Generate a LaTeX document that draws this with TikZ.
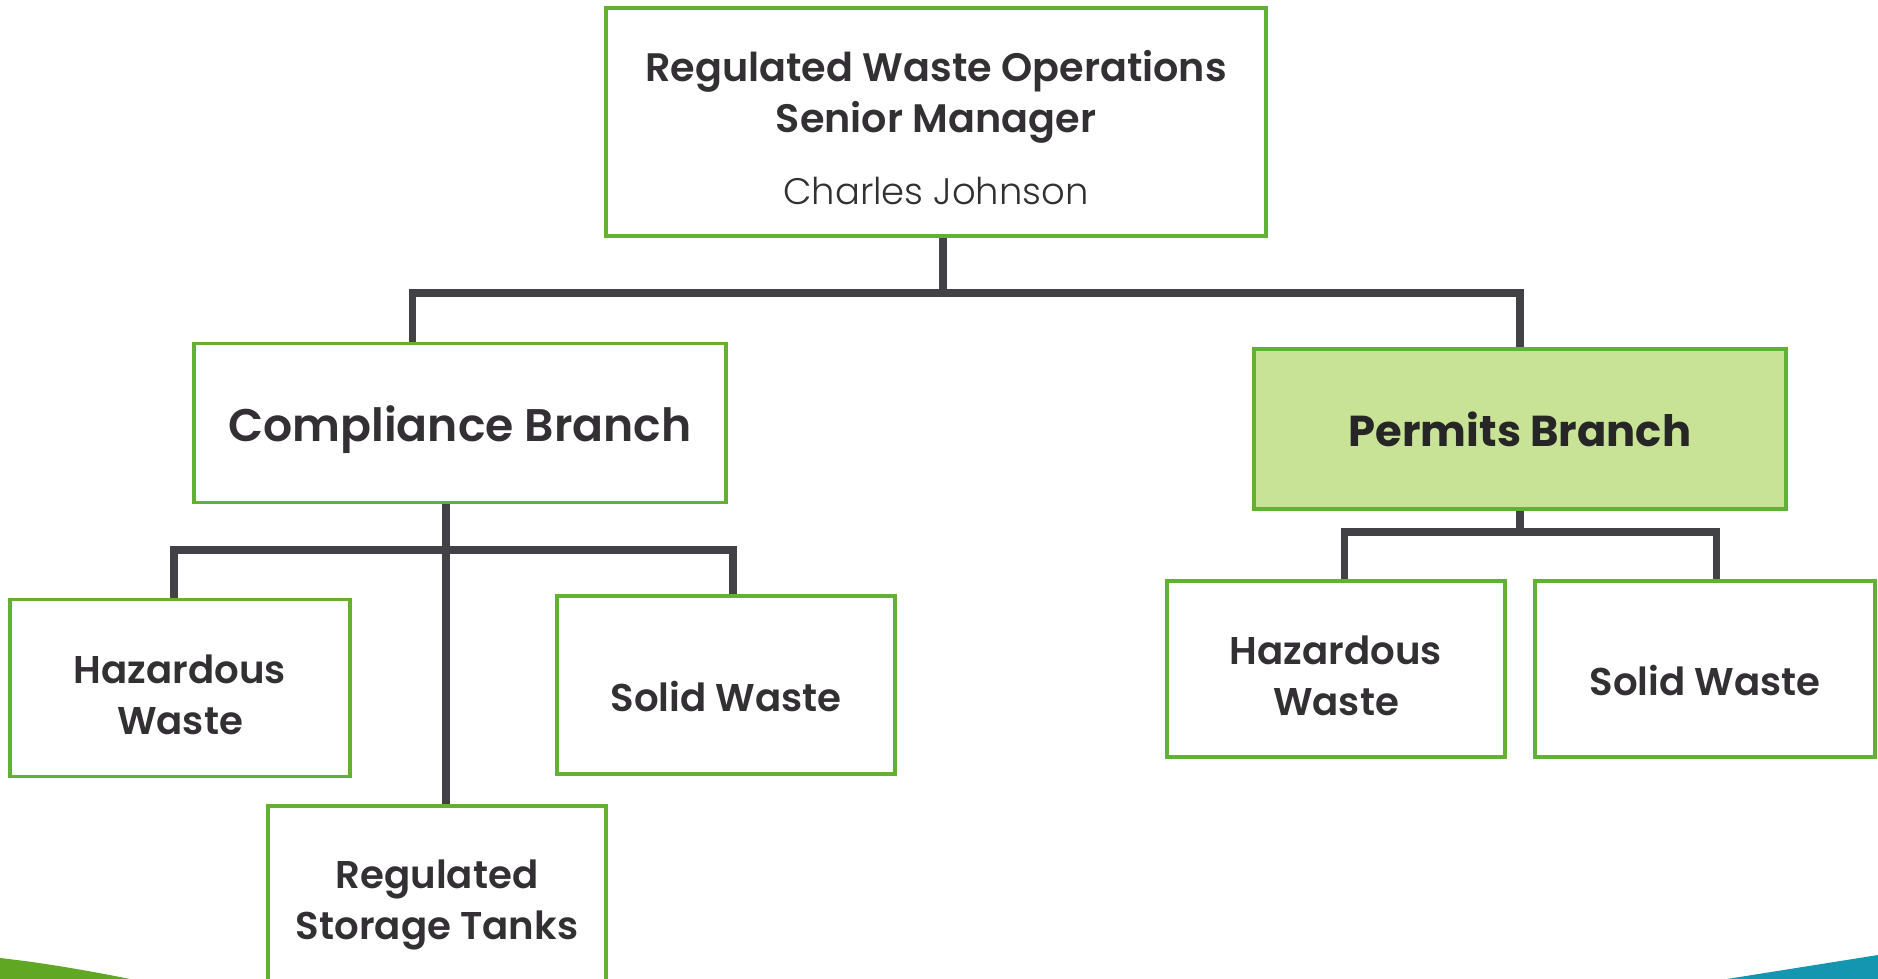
\documentclass[tikz,border=0pt]{standalone}
\usepackage{fontspec}
\setmainfont{Poppins}[BoldFont={Poppins SemiBold}]
\newfontfamily\lightfont{Poppins Light}
\newfontfamily\heavyfont{Poppins Bold}
\usepackage{xcolor}
\usetikzlibrary{calc}
\definecolor{boxgreen}{RGB}{98,176,52}
\definecolor{swooshgreen}{RGB}{96,168,36}
\definecolor{lightgreen}{RGB}{200,226,150}
\definecolor{linegray}{RGB}{66,66,70}
\definecolor{textgray}{RGB}{50,48,50}
\definecolor{swooshblue}{RGB}{20,150,176}
\newcommand{\textlift}[1]{\rule{0pt}{#1}}

\begin{document}
\begin{tikzpicture}[x=0.01cm, y=-0.01cm,
  box/.style={draw=boxgreen, line width=1.1pt, fill=white, text=textgray, align=center, inner sep=2pt},
  conn/.style={draw=linegray, line width=2pt},
  subtext/.style={font=\fontsize{11}{14.5}\selectfont\bfseries}]
  \useasboundingbox (0,0) rectangle (1878,979);
  % bottom swooshes
  \fill[swooshgreen] (0,958) .. controls (45,963) and (90,971) .. (130,979) -- (0,979) -- cycle;
  \fill[swooshblue] (1727,979) -- (1878,955) -- (1878,979) -- cycle;
  % boxes
  \node[box, font=\fontsize{11.3}{14.5}\selectfont\bfseries, minimum width=6.6cm, minimum height=2.28cm] (top) at (936,122) {\textlift{12pt}Regulated Waste Operations\\Senior Manager\\[6pt]\lightfont\mdseries\fontsize{10.5}{12}\selectfont Charles Johnson};
  \node[box, minimum width=5.31cm, minimum height=1.59cm, font=\fontsize{13}{16}\selectfont\bfseries] (comp) at (460,423) {\textlift{14pt}Compliance Branch};
  \node[box, fill=lightgreen, text=black!85, minimum width=5.31cm, minimum height=1.6cm, font=\fontsize{12.3}{16}\selectfont\heavyfont] (perm) at (1520,429) {Permits Branch};
  \node[box, subtext, minimum width=3.39cm, minimum height=1.77cm] (hazL) at (180,688) {\textlift{12pt}Hazardous\\Waste};
  \node[box, subtext, minimum width=3.38cm, minimum height=1.78cm] (solL) at (726,685) {\textlift{15pt}Solid Waste};
  \node[box, subtext, minimum width=3.38cm, minimum height=1.78cm] (rst) at (437,895) {\textlift{14pt}Regulated\\Storage Tanks};
  \node[box, subtext, minimum width=3.37cm, minimum height=1.76cm] (hazR) at (1336,669) {\textlift{12pt}Hazardous\\Waste};
  \node[box, subtext, minimum width=3.39cm, minimum height=1.76cm] (solR) at (1705,669) {\textlift{15pt}Solid Waste};
  % connectors
  \coordinate (busTop) at (0,293);
  \coordinate (busComp) at (0,550);
  \coordinate (busPerm) at (0,532);
  \draw[conn] ([xshift=0.07cm]top.south) -- ([xshift=0.07cm]top.south |- busTop);
  \draw[conn] ([xshift=-0.47cm]comp.north) |- (perm.north |- busTop) -- (perm.north);
  \draw[conn] ([xshift=-0.14cm]comp.south) -- ([xshift=-0.14cm]comp.south |- rst.north);
  \draw[conn] ([xshift=-0.06cm]hazL.north) |- ([xshift=0.07cm]solL.north |- busComp) -- ([xshift=0.07cm]solL.north);
  \draw[conn] (perm.south) -- (perm.south |- busPerm);
  \draw[conn] ([xshift=0.08cm]hazR.north) |- ([xshift=0.11cm]solR.north |- busPerm) -- ([xshift=0.11cm]solR.north);
\end{tikzpicture}
\end{document}
